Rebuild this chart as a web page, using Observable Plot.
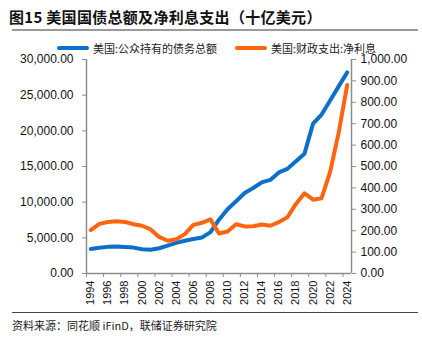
<!DOCTYPE html>
<html><head><meta charset="utf-8">
<script src="https://cdn.jsdelivr.net/npm/d3@7"></script>
<script src="https://cdn.jsdelivr.net/npm/@observablehq/plot@0.6"></script>
<style>
body{margin:0;width:422px;height:341px;position:relative;background:#fff;font-family:"Liberation Sans",Arial,sans-serif;overflow:hidden}
#title{position:absolute;left:9px;top:6px;font:bold 15px "Noto Sans CJK SC","Liberation Sans",sans-serif;color:#111;letter-spacing:0.3px}
#tline{position:absolute;left:12px;top:29px;width:406px;height:2px;background:#9a9a9a}
.leg{position:absolute;top:41px;font:11px "Noto Sans CJK SC",sans-serif;color:#222;display:flex;align-items:center;line-height:14px}
.sw{display:inline-block;width:32px;height:4px;border-radius:2px;margin-right:4px}
#chart{position:absolute;left:0;top:47px}
#fline{position:absolute;left:12px;top:312px;width:406px;height:1px;background:#444}
#foot{position:absolute;left:12px;top:317px;font:11px "Noto Sans CJK SC",sans-serif;color:#222}
</style></head><body>
<div id="title">图15 美国国债总额及净利息支出（十亿美元）</div>
<div id="tline"></div>
<div class="leg" style="left:57px"><span class="sw" style="background:#0C6FC9"></span>美国:公众持有的债务总额</div>
<div class="leg" style="left:235px"><span class="sw" style="background:#FF6410"></span>美国:财政支出:净利息</div>
<div id="chart"></div>
<div id="fline"></div>
<div id="foot">资料来源：同花顺 iFinD，联储证券研究院</div>
<script>
const years = [1994,1995,1996,1997,1998,1999,2000,2001,2002,2003,2004,2005,2006,2007,2008,2009,2010,2011,2012,2013,2014,2015,2016,2017,2018,2019,2020,2021,2022,2023,2024];
const debt = [3432,3603,3734,3772,3721,3632,3410,3320,3540,3913,4296,4592,4829,5035,5803,7545,9019,10128,11281,11983,12780,13117,14168,14665,15750,16801,21017,22284,24253,26236,28200];
const interest = [203,232,241,244,241,230,223,206,171,153,160,184,227,237,253,187,196,230,220,221,229,223,240,263,325,375,345,352,475,658,881];
const leftTicks = [0,5000,10000,15000,20000,25000,30000];
const rightTicks = [0,100,200,300,400,500,600,700,800,900,1000];
const labelYears = [1994,1996,1998,2000,2002,2004,2006,2008,2010,2012,2014,2016,2018,2020,2022,2024];

const ratio = 30;
const debtData = years.map((y,i)=>({year:y, v:debt[i]}));
const intData = years.map((y,i)=>({year:y, v:interest[i]*ratio}));
const fmt = d3.format(",.2f");
const boundaries = d3.range(0,16).map(k=>1993.5+2*k);

const chart = Plot.plot({
  width:422, height:264,
  marginTop:12, marginBottom:38, marginLeft:86, marginRight:71,
  style:{fontFamily:"Liberation Sans, Arial, sans-serif", fontSize:"11px", color:"#111"},
  x:{domain:[1993.5,2024.5]},
  y:{domain:[0,30000]},
  marks:[
    Plot.ruleX([1993.5],{stroke:"#8c8c8c",strokeWidth:1.5}),
    Plot.ruleX([2024.5],{stroke:"#8c8c8c",strokeWidth:1.5}),
    Plot.ruleY([0],{stroke:"#8c8c8c",strokeWidth:1.5}),
    Plot.axisY({anchor:"left",ticks:leftTicks,tickFormat:fmt,tickSize:4,tickPadding:9,stroke:"#8c8c8c",label:null,fontSize:12}),
    Plot.axisY({anchor:"right",ticks:rightTicks.map(d=>d*ratio),tickFormat:d=>fmt(d/ratio),tickSize:4,tickPadding:5,stroke:"#8c8c8c",label:null,fontSize:12}),
    Plot.axisX({ticks:boundaries,tickFormat:()=>"",tickSize:4,stroke:"#8c8c8c",label:null}),
    Plot.axisX({ticks:labelYears,tickFormat:d=>String(d),tickSize:0,tickPadding:7,tickRotate:-90,label:null,fontSize:11}),
    Plot.line(debtData,{x:"year",y:"v",stroke:"#0C6FC9",strokeWidth:4,strokeLinejoin:"round"}),
    Plot.line(intData,{x:"year",y:"v",stroke:"#FF6410",strokeWidth:4,strokeLinejoin:"round"})
  ]
});
document.getElementById("chart").appendChild(chart);
</script>
</body></html>
